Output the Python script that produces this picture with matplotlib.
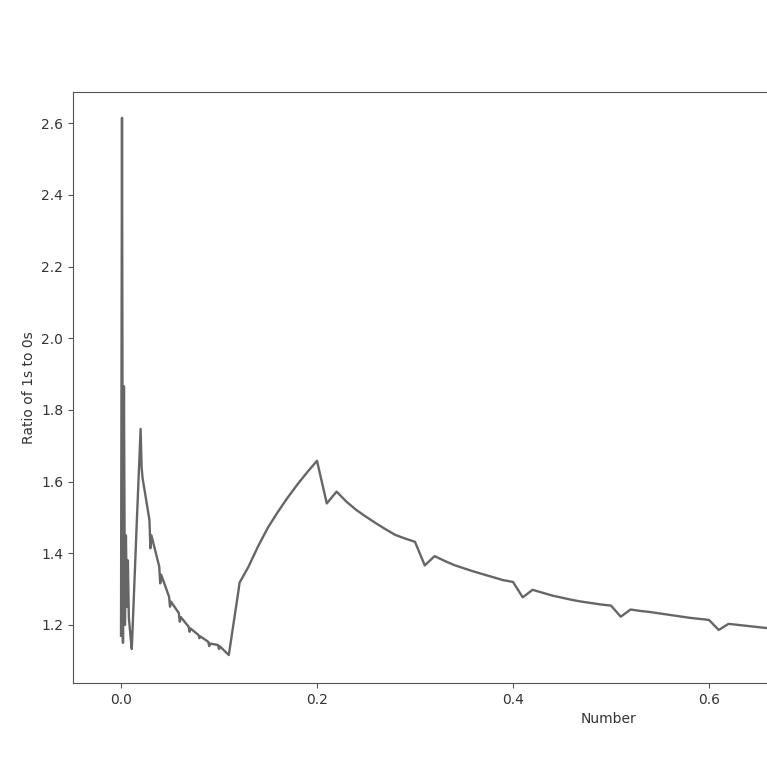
import matplotlib
matplotlib.use("Agg")
import matplotlib.pyplot as plt

# Values
number = [0.000, 0.001, 0.002, 0.003, 0.004, 0.005, 0.006, 0.007, 0.008, 0.010, 0.011,
          0.016, 0.020, 0.021, 0.022,
          0.029, 0.030, 0.031,
          0.039, 0.040, 0.041,
          0.049, 0.050, 0.051,
          0.059, 0.060, 0.061,
          0.069, 0.070, 0.071,
          0.079, 0.080, 0.081,
          0.089, 0.090, 0.091,
          0.099, 0.100, 0.101,
          0.110, 0.120, 0.121, 0.130, 0.140, 0.150, 0.160, 0.170, 0.180, 0.190, 0.200,
          0.210, 0.220, 0.230, 0.240, 0.250, 0.260, 0.270, 0.280, 0.290, 0.300,
          0.310, 0.320, 0.330, 0.340, 0.350, 0.360, 0.370, 0.380, 0.390, 0.400,
          0.410, 0.420, 0.430, 0.440, 0.450, 0.460, 0.470, 0.480, 0.490, 0.500,
          0.510, 0.520, 0.530, 0.540, 0.550, 0.560, 0.570, 0.580, 0.590, 0.600,
          0.610, 0.620, 0.630, 0.640, 0.650, 0.660]
ratio = [1.17, 2.615, 1.15, 1.866, 1.20, 1.45, 1.25, 1.38, 1.22, 1.16, 1.133,
         1.48, 1.747, 1.64, 1.61,
         1.493, 1.414, 1.45,
         1.363, 1.316, 1.34,
         1.279, 1.251, 1.265,
         1.233, 1.209, 1.222,
         1.195, 1.181, 1.190,
         1.172, 1.163, 1.168,
         1.153, 1.141, 1.148,
         1.144, 1.133, 1.140,
         1.116, 1.298, 1.318, 1.362, 1.420, 1.472, 1.515, 1.555, 1.592, 1.626, 1.658,
         1.539, 1.572, 1.544, 1.521, 1.502, 1.484, 1.467, 1.451, 1.441, 1.432,
         1.366, 1.392, 1.379, 1.367, 1.358, 1.349, 1.341, 1.333, 1.325, 1.320,
         1.277, 1.298, 1.290, 1.282, 1.276, 1.270, 1.265, 1.261, 1.257, 1.254,
         1.223, 1.243, 1.239, 1.236, 1.232, 1.228, 1.224, 1.220, 1.217, 1.214,
         1.186, 1.203, 1.200, 1.197, 1.194, 1.191]

xticks = [0.0, 0.2, 0.4, 0.6]
yticks = [1.2, 1.4, 1.6, 1.8, 2.0, 2.2, 2.4, 2.6]

fig = plt.figure(figsize=(7.67, 7.67), dpi=100)
W = H = 767.0
ax = fig.add_axes([73 / W, (H - 683) / H, (1145 - 73) / W, (683 - 92) / H])

ax.plot(number, ratio, color="#666666", linewidth=1.7)

ax.set_xlim(-0.049, 1.045)
ax.set_ylim(1.038, 2.687)
ax.set_xticks(xticks)
ax.set_yticks(yticks)
ax.set_xlabel("Number", color="#333333")
ax.set_ylabel("Ratio of 1s to 0s", color="#333333")
for s in ax.spines.values():
    s.set_color("#555555")
ax.tick_params(colors="#555555", labelcolor="#333333")

fig.savefig("out.png", dpi=100)
